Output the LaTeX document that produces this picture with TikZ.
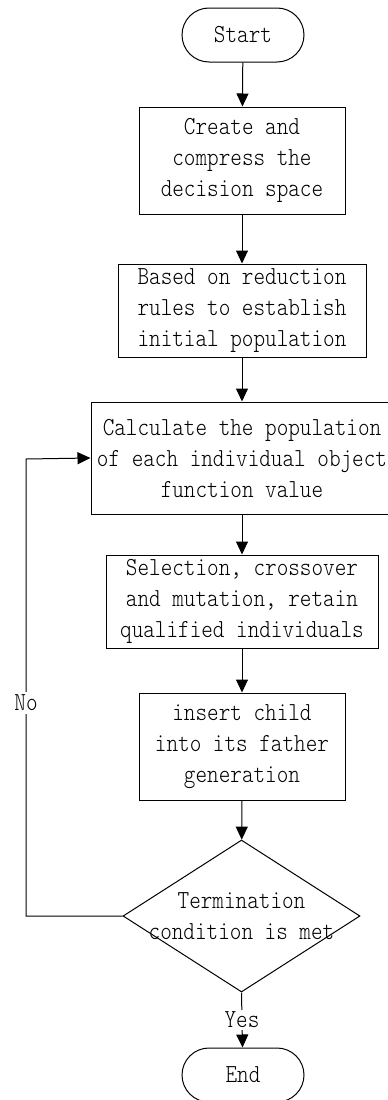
\documentclass[tikz,border=0pt]{standalone}
\usepackage{fontspec}
\newfontfamily\flowfont[FakeStretch=0.85]{lmmonolt10-regular.otf}
\usetikzlibrary{shapes.geometric,arrows.meta}

\begin{document}
\begin{tikzpicture}[x=1pt, y=-1pt,
    every node/.style={font=\flowfont\fontsize{26}{31}\selectfont, align=center},
    term/.style={draw, line width=1pt, rounded corners=27pt, minimum width=122pt, minimum height=54pt},
    proc/.style={draw, line width=1pt, inner sep=0pt},
    decision/.style={draw, diamond, line width=1pt, inner sep=0pt},
    flow/.style={line width=1pt, -{Triangle[length=13pt, width=12pt]}}]

    % Frame
    \useasboundingbox (0,0) rectangle (388,1100);
    \clip (0,0) rectangle (388,1100);

    % Steps
    \node[term] (start) at (243,35) {Start};
    \node[proc, minimum width=206pt, minimum height=107pt] (space) at (242,160.5)
        {Create and\\compress the\\decision space};
    \node[proc, minimum width=248pt, minimum height=93pt] (init) at (242,310.5)
        {Based on reduction\\rules to establish\\initial population};
    \node[proc, minimum width=302pt, minimum height=112pt] (eval) at (242,458)
        {Calculate the population\\of each individual object\\function value};
    \node[proc, minimum width=272pt, minimum height=93pt] (select) at (242,601.5)
        {Selection, crossover\\and mutation, retain\\qualified individuals};
    \node[proc, minimum width=206pt, minimum height=107pt] (insert) at (242,746.5)
        {insert child\\into its father\\generation};

    % Decision
    \node[decision, minimum width=237pt, minimum height=152pt] (cond) at (241.5,916) {};
    \node (condtext) at (241.5,916) {Termination\\condition is met};
    \node[term] (end) at (243,1075) {End};

    % Main flow
    \draw[flow] (start) -- (space);
    \draw[flow] (space) -- (init);
    \draw[flow] (init) -- (eval);
    \draw[flow] (eval) -- (select);
    \draw[flow] (select) -- (insert);
    \draw[flow] (insert) -- (cond);
    \draw[flow] (cond.south) -- node[fill=white, inner sep=2pt] (yes) {Yes} (end);

    % Loop back
    \coordinate (loopb) at (26,916);
    \coordinate (loopt) at (26,459);
    \draw[flow] (cond.west) -- (loopb) -- node[pos=0.466, fill=white] (no) {No} (loopt) -- (eval.west);
\end{tikzpicture}
\end{document}
